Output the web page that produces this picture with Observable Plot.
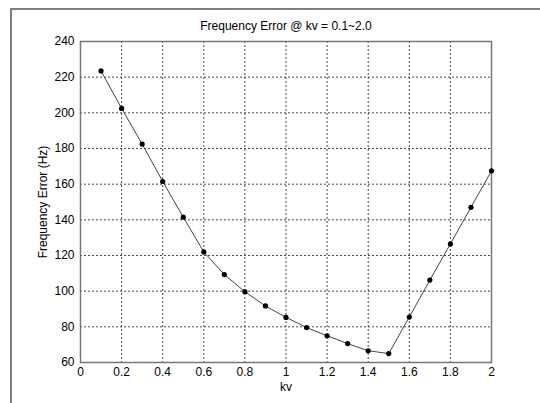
<!DOCTYPE html>
<html>
<head>
<meta charset="utf-8">
<script src="https://cdn.jsdelivr.net/npm/d3@7"></script>
<script src="https://cdn.jsdelivr.net/npm/@observablehq/plot@0.6"></script>
<style>
  html, body { margin: 0; padding: 0; background: #fff; }
  #wrap { position: relative; width: 540px; height: 403px; overflow: hidden; }
  #frame { position: absolute; left: 10px; top: 8px; width: 540px; height: 400px;
           border-top: 2px solid #7f7f7f; border-left: 2px solid #7f7f7f; }
  #chart { position: absolute; left: 0; top: 0; }
</style>
</head>
<body>
<div id="wrap"><div id="frame"></div><div id="chart"></div></div>
<script>
const kv = [0.1, 0.2, 0.3, 0.4, 0.5, 0.6, 0.7, 0.8, 0.9, 1.0, 1.1, 1.2, 1.3, 1.4, 1.5, 1.6, 1.7, 1.8, 1.9, 2.0];
const freqError = [223.5, 202.5, 182.5, 161.5, 141.5, 122, 109.3, 99.7, 91.7, 85.3, 79.6, 75, 70.6, 66.6, 65, 85.5, 106.2, 126.5, 147, 167.5];
const xTicks = [0, 0.2, 0.4, 0.6, 0.8, 1, 1.2, 1.4, 1.6, 1.8, 2];
const yTicks = [60, 80, 100, 120, 140, 160, 180, 200, 220, 240];
const titleText = "Frequency Error @ kv = 0.1~2.0";
const xLabel = "kv";
const yLabel = "Frequency Error (Hz)";

const data = kv.map((k, i) => ({kv: k, err: freqError[i]}));
const gridX = xTicks.slice(1, -1);
const gridY = yTicks.slice(1, -1);

const chart = Plot.plot({
  width: 540,
  height: 403,
  marginLeft: 80,
  marginRight: 49,
  marginTop: 41,
  marginBottom: 41,
  style: {fontFamily: "'Liberation Sans', Arial, sans-serif", fontSize: "12px", color: "#000", background: "transparent"},
  x: {domain: [0, 2], ticks: xTicks, tickFormat: d => String(Math.round(d * 10) / 10), tickSize: 0, tickPadding: 5,
      label: xLabel, labelAnchor: "center", labelArrow: "none", labelOffset: 28},
  y: {domain: [60, 240], ticks: yTicks, tickSize: 0, tickPadding: 6,
      label: yLabel, labelAnchor: "center", labelArrow: "none", labelOffset: 42},
  marks: [
    Plot.ruleX(gridX, {stroke: "#333", strokeWidth: 1, strokeDasharray: "2,2", strokeOpacity: 0.9}),
    Plot.ruleY(gridY, {stroke: "#333", strokeWidth: 1, strokeDasharray: "2,2", strokeOpacity: 0.9}),
    Plot.frame({stroke: "#777", strokeWidth: 1.5}),
    Plot.line(data, {x: "kv", y: "err", stroke: "#444", strokeWidth: 1}),
    Plot.dot(data, {x: "kv", y: "err", r: 2.6, fill: "#000", stroke: "none"}),
    Plot.text([titleText], {frameAnchor: "top", dy: -20, fontSize: 12, fill: "#000"})
  ]
});
document.getElementById("chart").appendChild(chart);
</script>
</body>
</html>
